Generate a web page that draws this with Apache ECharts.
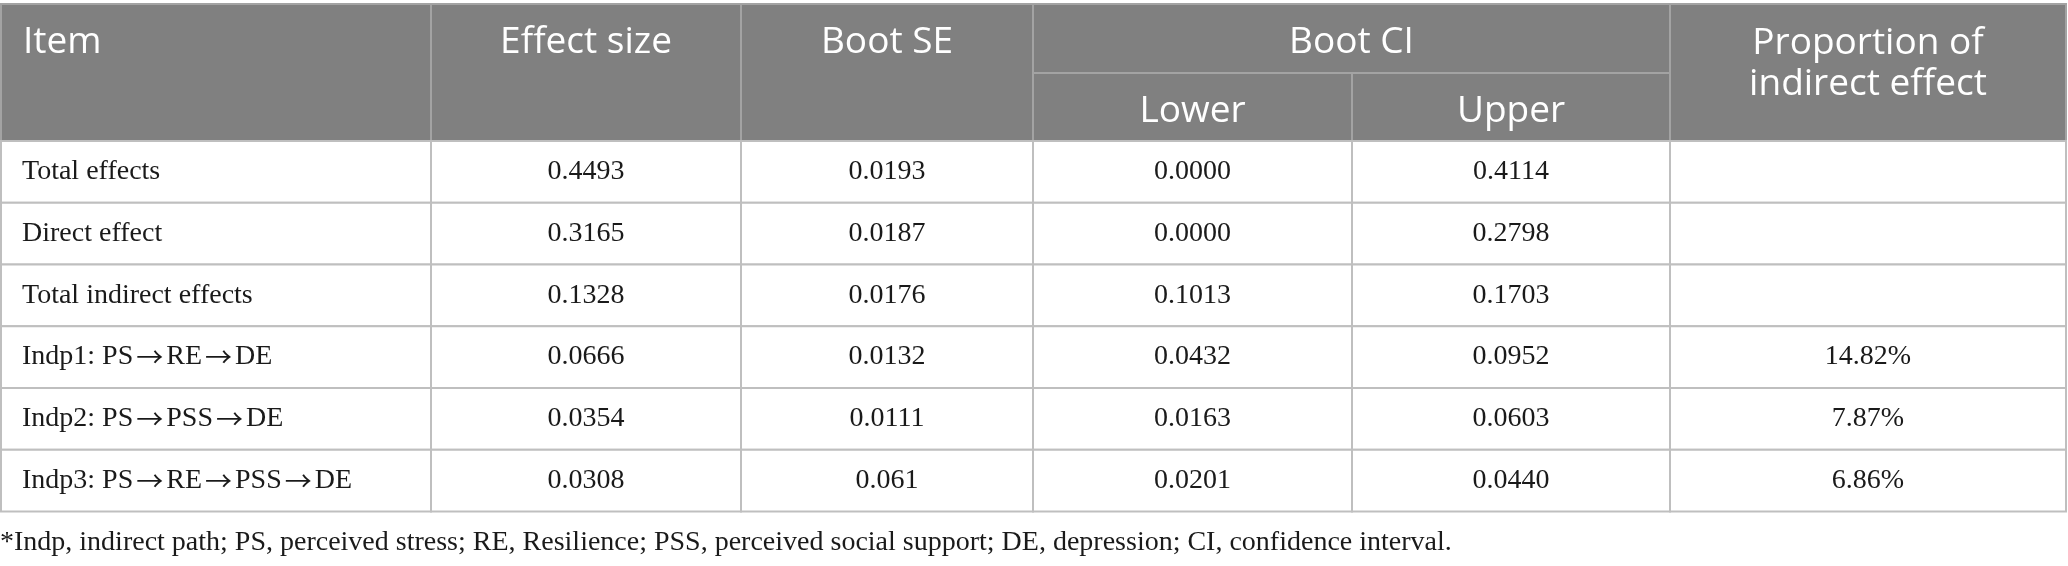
<!DOCTYPE html>
<html>
<head>
<meta charset="utf-8">
<script src="https://cdn.jsdelivr.net/npm/echarts@6/dist/echarts.min.js"></script>
<style>
  html, body { margin: 0; padding: 0; background: #fff; }
  #main { width: 2068px; height: 566px; }
</style>
</head>
<body>
<div id="main"></div>
<script>
// 表格数据
var items = [
    'Total effects',
    'Direct effect',
    'Total indirect effects',
    'Indp1: PS{a|\u2192}RE{a|\u2192}DE',
    'Indp2: PS{a|\u2192}PSS{a|\u2192}DE',
    'Indp3: PS{a|\u2192}RE{a|\u2192}PSS{a|\u2192}DE'
];
var effectSize = ['0.4493', '0.3165', '0.1328', '0.0666', '0.0354', '0.0308'];
var bootSE = ['0.0193', '0.0187', '0.0176', '0.0132', '0.0111', '0.061'];
var ciLower = ['0.0000', '0.0000', '0.1013', '0.0432', '0.0163', '0.0201'];
var ciUpper = ['0.4114', '0.2798', '0.1703', '0.0952', '0.0603', '0.0440'];
var proportion = ['', '', '', '14.82%', '7.87%', '6.86%'];
var footnote = '*Indp, indirect path; PS, perceived stress; RE, Resilience; PSS, perceived social support; DE, depression; CI, confidence interval.';

// 表头: [起始列, 结束列, 起始行, 结束行, 文字, 对齐]
var headerCells = [
    [0, 1, 0, 2, 'Item', 'left'],
    [1, 2, 0, 2, 'Effect size', 'center'],
    [2, 3, 0, 2, 'Boot SE', 'center'],
    [3, 5, 0, 1, 'Boot CI', 'center'],
    [3, 4, 1, 2, 'Lower', 'center'],
    [4, 5, 1, 2, 'Upper', 'center'],
    [5, 6, 0, 2, 'Proportion of\nindirect effect', 'center']
];

// 布局
var colEdges = [1, 431, 741, 1033, 1352, 1670, 2066];
var headEdges = [4, 73, 141];
var rowEdges = [141, 202.75, 264.5, 326.25, 388, 449.75, 511.5];
var lineColor = '#bfbfbf';
var headFill = '#808080';
var sansFont = '"Open Sans", "Noto Sans", sans-serif';
var serifFont = '"Liberation Serif", "DejaVu Serif", serif';

var columns = [items, effectSize, bootSE, ciLower, ciUpper, proportion];
var bodyData = [];
for (var r = 0; r < items.length; r++) {
    for (var c = 0; c < columns.length; c++) {
        bodyData.push([c, r]);
    }
}

var myChart = echarts.init(document.getElementById('main'));

option = {
    animation: false,
    grid: { left: 0, right: 0, top: 0, bottom: 0 },
    xAxis: { type: 'value', min: 0, max: 2068, show: false },
    yAxis: { type: 'value', min: 0, max: 566, inverse: true, show: false },
    series: [
        {
            name: 'header',
            type: 'custom',
            silent: true,
            data: headerCells.map(function (h) { return [h[0], h[1], h[2], h[3]]; }),
            renderItem: function (params, api) {
                var h = headerCells[params.dataIndex];
                var p0 = api.coord([colEdges[api.value(0)], headEdges[api.value(2)]]);
                var p1 = api.coord([colEdges[api.value(1)], headEdges[api.value(3)]]);
                var lines = h[4].split('\n').length;
                var tx = h[5] === 'left' ? p0[0] + 22 : (p0[0] + p1[0]) / 2;
                // 单行文字居上, 两行文字整体下移
                var ty = lines > 1 ? p0[1] + 60 : p0[1] + 38;
                return {
                    type: 'group',
                    children: [
                        {
                            type: 'rect',
                            shape: { x: p0[0], y: p0[1], width: p1[0] - p0[0], height: p1[1] - p0[1] },
                            style: { fill: headFill, stroke: '#a3a3a3', lineWidth: 2 }
                        },
                        {
                            type: 'text',
                            style: {
                                text: h[4],
                                x: tx,
                                y: ty,
                                align: h[5],
                                verticalAlign: 'middle',
                                fill: '#ffffff',
                                font: '37px ' + sansFont,
                                lineHeight: 41
                            }
                        }
                    ]
                };
            }
        },
        {
            name: 'body',
            type: 'custom',
            silent: true,
            data: bodyData,
            renderItem: function (params, api) {
                var c = api.value(0), r = api.value(1);
                var p0 = api.coord([colEdges[c], rowEdges[r]]);
                var p1 = api.coord([colEdges[c + 1], rowEdges[r + 1]]);
                var left = c === 0;
                return {
                    type: 'group',
                    children: [
                        {
                            type: 'rect',
                            shape: { x: p0[0], y: p0[1], width: p1[0] - p0[0], height: p1[1] - p0[1] },
                            style: { fill: '#ffffff', stroke: lineColor, lineWidth: 2 }
                        },
                        {
                            type: 'text',
                            style: {
                                text: columns[c][r],
                                x: left ? p0[0] + 21 : (p0[0] + p1[0]) / 2,
                                y: (p0[1] + p1[1]) / 2,
                                align: left ? 'left' : 'center',
                                verticalAlign: 'middle',
                                fill: '#1a1a1a',
                                font: '28px ' + serifFont,
                                rich: {
                                    a: {
                                        font: '27px "Noto Sans CJK SC", sans-serif',
                                        fill: '#1a1a1a',
                                        padding: [0, 3, 0, 3]
                                    }
                                }
                            }
                        }
                    ]
                };
            }
        },
        {
            name: 'footnote',
            type: 'custom',
            silent: true,
            data: [[0, 543]],
            renderItem: function (params, api) {
                var p = api.coord([api.value(0), api.value(1)]);
                return {
                    type: 'text',
                    style: {
                        text: footnote,
                        x: p[0],
                        y: p[1],
                        align: 'left',
                        verticalAlign: 'middle',
                        fill: '#1a1a1a',
                        font: '28px ' + serifFont
                    }
                };
            }
        }
    ]
};

myChart.setOption(option);
</script>
</body>
</html>
